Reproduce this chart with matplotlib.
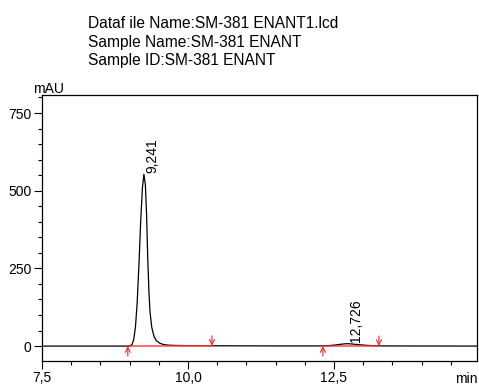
import matplotlib
matplotlib.use("Agg")
import matplotlib.pyplot as plt
from matplotlib.ticker import MultipleLocator, FuncFormatter

plt.rcParams["font.family"] = ["Liberation Sans", "DejaVu Sans"]

# header lines
header = [
    "Dataf ile Name:SM-381 ENANT1.lcd",
    "Sample Name:SM-381 ENANT",
    "Sample ID:SM-381 ENANT",
]

# chromatogram trace (min, mAU)
times = [7.5, 8.5, 8.95, 9.00, 9.04, 9.07, 9.10, 9.13, 9.16, 9.19, 9.22, 9.245,
         9.27, 9.29, 9.31, 9.33, 9.35, 9.38, 9.42, 9.46, 9.52, 9.58, 9.66, 9.8,
         10.0, 10.4, 11.5, 12.3, 12.4, 12.5, 12.6, 12.7, 12.75, 12.85, 12.95,
         13.05, 13.2, 13.4, 14.95]
signal = [0, 0, 0, 1, 4, 20, 60, 140, 260, 400, 510, 553,
          520, 430, 290, 180, 110, 60, 30, 17, 9, 5, 3, 2,
          1.5, 1, 0.5, 0.5, 1.5, 3, 5.5, 7.5, 7.5, 6, 4,
          2.5, 1, 0.5, 0]

# peaks and integration baselines
peak_rt = [9.241, 12.726]
peak_top = [553, 8]
peak_labels = ["9,241", "12,726"]
base_start = [8.97, 12.31]
base_end = [10.41, 13.27]
base_start_y = [0, 0]
base_end_y = [1, 0.5]

fig = plt.figure(figsize=(4.79, 3.85), dpi=100)
ax = fig.add_axes([42 / 479, 24 / 385, 435 / 479, 266 / 385])

ax.plot(times, signal, color="black", lw=0.9)

for x0, x1, y0, y1 in zip(base_start, base_end, base_start_y, base_end_y):
    ax.plot([x0, x1], [y0, y1], color="#ff3030", lw=1.0)
    ax.annotate("", xy=(x0, y0), xytext=(x0, y0 - 32),
                arrowprops=dict(arrowstyle="->", color="#ff2020", lw=0.8,
                                shrinkA=0, shrinkB=0, mutation_scale=9))
    ax.annotate("", xy=(x1, y1), xytext=(x1, y1 + 32),
                arrowprops=dict(arrowstyle="->", color="#ff2020", lw=0.8,
                                shrinkA=0, shrinkB=0, mutation_scale=9))

for rt, top, lab in zip(peak_rt, peak_top, peak_labels):
    ax.text(rt + 0.03, top + 4, lab, rotation=90, ha="left", va="bottom",
            fontsize=10)

ax.set_xlim(7.5, 14.95)
ax.set_ylim(-48, 808)
ax.xaxis.set_major_locator(MultipleLocator(2.5))
ax.xaxis.set_minor_locator(MultipleLocator(0.5))
ax.yaxis.set_major_locator(MultipleLocator(250))
ax.yaxis.set_minor_locator(MultipleLocator(50))
ax.xaxis.set_major_formatter(FuncFormatter(lambda v, p: f"{v:.1f}".replace(".", ",")))
ax.yaxis.set_major_formatter(FuncFormatter(lambda v, p: f"{v:.0f}"))
ax.tick_params(which="major", length=6, width=0.8, labelsize=10, pad=1.5)
ax.tick_params(which="minor", length=3, width=0.8)
for s in ax.spines.values():
    s.set_linewidth(0.9)

fig.text(33 / 479, 1 - 93 / 385, "mAU", fontsize=10, ha="left", va="baseline")
fig.text(478 / 479, 1 - 383 / 385, "min", fontsize=10, ha="right", va="baseline")
for i, line in enumerate(header):
    fig.text(88 / 479, 1 - (28.3 + 18.4 * i) / 385, line, fontsize=11.2,
             ha="left", va="baseline")

fig.savefig("out.png", dpi=100)
